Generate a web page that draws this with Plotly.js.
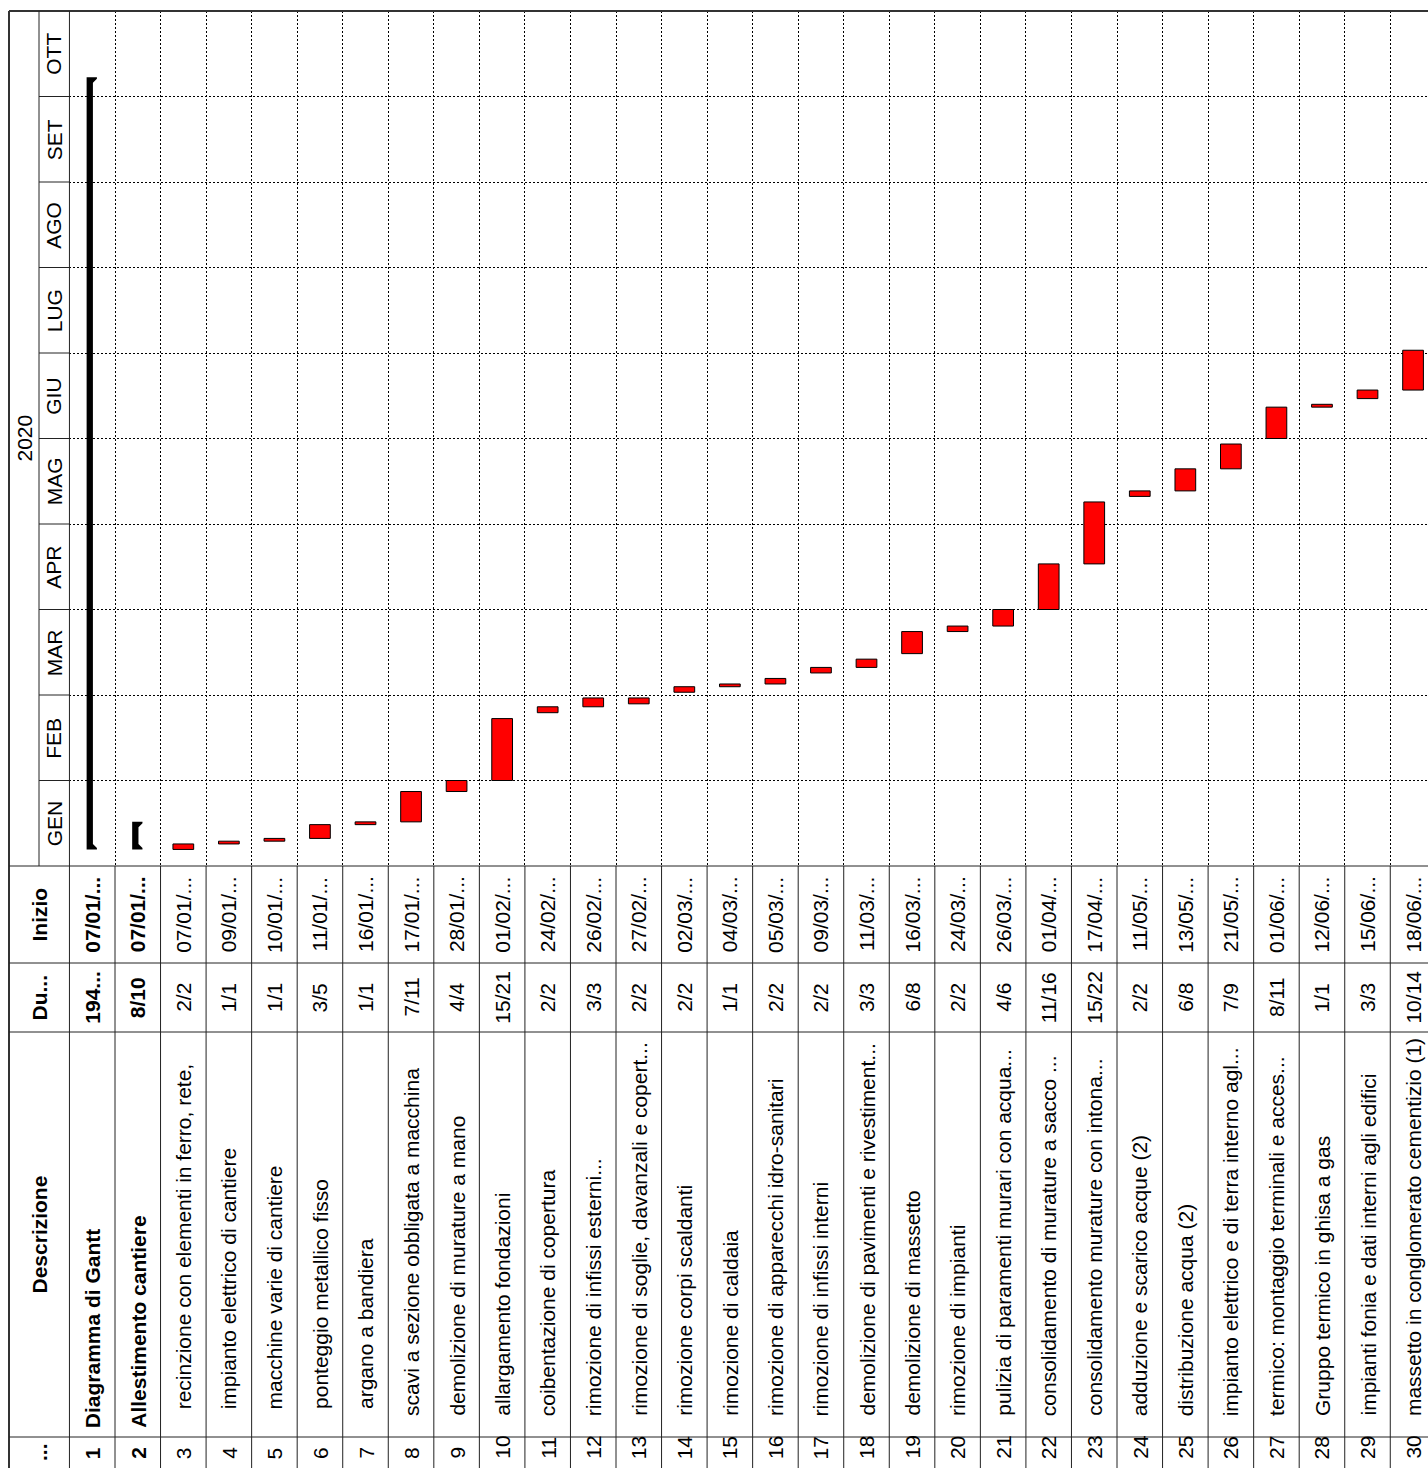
<!DOCTYPE html>
<html>
<head>
<meta charset="utf-8">
<script src="https://cdn.plot.ly/plotly-3.0.1.min.js"></script>
<style>
html,body{margin:0;padding:0;background:#fff;}
#chart{width:1428px;height:1468px;}
</style>
</head>
<body>
<div id="chart"></div>
<script>
// ---------------- DATA ----------------
const rowIds = [1,2,3,4,5,6,7,8,9,10,11,12,13,14,15,16,17,18,19,20,21,22,23,24,25,26,27,28,29,30];
const descriptions = [
  "Diagramma di Gantt",
  "Allestimento cantiere",
  "recinzione con elementi in ferro, rete,",
  "impianto elettrico di cantiere",
  "macchine varie di cantiere",
  "ponteggio metallico fisso",
  "argano a bandiera",
  "scavi a sezione obbligata a macchina",
  "demolizione di murature a mano",
  "allargamento fondazioni",
  "coibentazione di copertura",
  "rimozione di infissi esterni...",
  "rimozione di soglie, davanzali e copert...",
  "rimozione corpi scaldanti",
  "rimozione di caldaia",
  "rimozione di apparecchi idro-sanitari",
  "rimozione di infissi interni",
  "demolizione di pavimenti e rivestiment...",
  "demolizione di massetto",
  "rimozione di impianti",
  "pulizia di paramenti murari con acqua...",
  "consolidamento di murature a sacco ...",
  "consolidamento murature con intona...",
  "adduzione e scarico acque (2)",
  "distribuzione acqua (2)",
  "impianto elettrico e di terra interno agl...",
  "termico: montaggio terminali e acces...",
  "Gruppo termico in ghisa a gas",
  "impianti fonia e dati interni agli edifici",
  "massetto in conglomerato cementizio (1)"
];
const durationLabels = ["194...","8/10","2/2","1/1","1/1","3/5","1/1","7/11","4/4","15/21","2/2","3/3","2/2","2/2","1/1","2/2","2/2","3/3","6/8","2/2","4/6","11/16","15/22","2/2","6/8","7/9","8/11","1/1","3/3","10/14"];
const startLabels = ["07/01/...","07/01/...","07/01/...","09/01/...","10/01/...","11/01/...","16/01/...","17/01/...","28/01/...","01/02/...","24/02/...","26/02/...","27/02/...","02/03/...","04/03/...","05/03/...","09/03/...","11/03/...","16/03/...","24/03/...","26/03/...","01/04/...","17/04/...","11/05/...","13/05/...","21/05/...","01/06/...","12/06/...","15/06/...","18/06/..."];
const startDates = ["07/01/2020","07/01/2020","07/01/2020","09/01/2020","10/01/2020","11/01/2020","16/01/2020","17/01/2020","28/01/2020","01/02/2020","24/02/2020","26/02/2020","27/02/2020","02/03/2020","04/03/2020","05/03/2020","09/03/2020","11/03/2020","16/03/2020","24/03/2020","26/03/2020","01/04/2020","17/04/2020","11/05/2020","13/05/2020","21/05/2020","01/06/2020","12/06/2020","15/06/2020","18/06/2020"];
// calendar days (second duration figure); row 1
const calendarDays = [275,10,2,1,1,5,1,11,4,21,2,3,2,2,1,2,2,3,8,2,6,16,22,2,8,9,11,1,3,14];
const summaryRows = [1,2];
const indentGroup = [0,0,2,2,2,2,2,1,1,1,1,1,1,1,1,1,1,1,1,1,1,1,1,1,1,1,1,1,1,1];
const monthLabels = ["GEN","FEB","MAR","APR","MAG","GIU","LUG","AGO","SET","OTT"];
const yearLabel = "2020";
const headerNum = "...";
const headerDesc = "Descrizione";
const headerDur = "Du...";
const headerStart = "Inizio";

// ---------------- HELPERS ----------------
const W = 1428, H = 1468;
const px = v => v / W;
const py = v => 1 - v / H;
const ROW_PX = 45.546;      // pixel per row
const MONTH_PX = 85.5;      // pixel per month
const CHART_LEFT = 69.45, CHART_TOP = 11, CHART_BOTTOM = 866;

function parseDate(s){ const [d,m,y] = s.split('/').map(Number); return new Date(Date.UTC(y,m-1,d)); }
function daysIn(y,m){ return new Date(Date.UTC(y,m+1,0)).getUTCDate(); }
function toMonthUnits(dt){ return dt.getUTCMonth() + (dt.getUTCDate()-1)/daysIn(dt.getUTCFullYear(), dt.getUTCMonth()); }

const startMU = startDates.map(s => toMonthUnits(parseDate(s)));
const endMU = startDates.map((s,i) => toMonthUnits(new Date(parseDate(s).getTime() + calendarDays[i]*86400000)));

// ---------------- TRACES ----------------
const taskIdx = rowIds.map((r,i)=>i).filter(i => summaryRows.indexOf(rowIds[i]) < 0);
const traces = [];
traces.push({
  type:'bar',
  x: taskIdx.map(i => rowIds[i]),
  base: taskIdx.map(i => startMU[i]),
  y: taskIdx.map(i => endMU[i] - startMU[i]),
  width: 0.455,
  marker:{color:'#ff0000', line:{color:'#000000', width:1}},
  hoverinfo:'none',
  showlegend:false
});
summaryRows.forEach(r => {
  const i = rowIds.indexOf(r);
  const s = startMU[i], e = endMU[i];
  const xl = r - 5.6/ROW_PX, xb = r + 0.7/ROW_PX, xc = r + 4.7/ROW_PX;
  const d1 = 1.5/MONTH_PX, d2 = 5.5/MONTH_PX;
  traces.push({
    type:'scatter', mode:'lines', fill:'toself', fillcolor:'#000000',
    line:{width:0, color:'#000000'},
    x:[xl, xc, xc, xb, xb, xc, xc, xl, xl],
    y:[s, s, s+d1, s+d2, e-d2, e-d1, e, e, s],
    hoverinfo:'none', showlegend:false
  });
});

// ---------------- ANNOTATIONS ----------------
const FONT = 'Liberation Sans, Arial, sans-serif';
const ann = [];
function A(o){ ann.push(Object.assign({showarrow:false, textangle:-90, font:{family:FONT, size:21, color:'#000'}}, o)); }
const bold = t => '<b>' + t + '</b>';
const descStartPx = [1430, 1418, 1411];

rowIds.forEach((r,i) => {
  const isB = summaryRows.indexOf(r) >= 0;
  A({x:r, xref:'x', y:py(1461), yref:'paper', xanchor:'center', yanchor:'bottom', text: isB ? bold(String(r)) : String(r)});
  A({x:r, xref:'x', y:py(descStartPx[indentGroup[i]]), yref:'paper', xanchor:'center', yanchor:'bottom', text: isB ? bold(descriptions[i]) : descriptions[i]});
  A({x:r, xref:'x', y:py(997.5), yref:'paper', xanchor:'center', yanchor:'middle', text: isB ? bold(durationLabels[i]) : durationLabels[i]});
  A({x:r, xref:'x', y:py(914.5), yref:'paper', xanchor:'center', yanchor:'middle', text: isB ? bold(startLabels[i]) : startLabels[i]});
});
A({x:px(39), xref:'paper', y:py(1452), yref:'paper', xanchor:'center', yanchor:'middle', text:bold(headerNum)});
A({x:px(39), xref:'paper', y:py(1234.5), yref:'paper', xanchor:'center', yanchor:'middle', text:bold(headerDesc)});
A({x:px(39), xref:'paper', y:py(997.5), yref:'paper', xanchor:'center', yanchor:'middle', text:bold(headerDur)});
A({x:px(39), xref:'paper', y:py(914.5), yref:'paper', xanchor:'center', yanchor:'middle', text:bold(headerStart)});
monthLabels.forEach((m,k) => {
  A({x:px(54), xref:'paper', y:k+0.5, yref:'y', xanchor:'center', yanchor:'middle', text:m});
});
A({x:px(24), xref:'paper', y:monthLabels.length/2, yref:'y', xanchor:'center', yanchor:'middle', text:yearLabel});

// ---------------- SHAPES (table frame) ----------------
const shapes = [];
const LC = '#222222';
function L(o){ shapes.push(Object.assign({type:'line', layer:'above', line:{color:LC, width:1}}, o)); }
L({xref:'paper', yref:'paper', x0:px(9), x1:px(9), y0:py(11), y1:py(1468), line:{color:'#333', width:2}});
L({xref:'paper', yref:'paper', x0:px(9), x1:1, y0:py(11), y1:py(11), line:{color:'#333', width:2}});
L({xref:'paper', yref:'paper', x0:px(39), x1:px(39), y0:py(11), y1:py(CHART_BOTTOM)});
L({xref:'paper', yref:'paper', x0:px(CHART_LEFT), x1:px(CHART_LEFT), y0:py(11), y1:py(1468)});
for(let k=1;k<monthLabels.length;k++){
  L({xref:'paper', yref:'y', x0:px(39), x1:px(CHART_LEFT), y0:k, y1:k});
}
[CHART_BOTTOM, 963, 1032, 1437].forEach(v => L({xref:'paper', yref:'paper', x0:px(9), x1:1, y0:py(v), y1:py(v)}));
for(let k=1;k<=rowIds.length;k++){
  L({xref:'x', yref:'paper', x0:k+0.5, x1:k+0.5, y0:py(CHART_BOTTOM), y1:0});
}

// ---------------- LAYOUT ----------------
const xTicks = []; for(let k=1;k<rowIds.length;k++) xTicks.push(k+0.5);
const yTicks = []; for(let k=1;k<monthLabels.length;k++) yTicks.push(k);
const layout = {
  width:W, height:H,
  margin:{l:0,r:0,t:0,b:0},
  paper_bgcolor:'#ffffff', plot_bgcolor:'rgba(0,0,0,0)',
  showlegend:false,
  xaxis:{
    domain:[px(CHART_LEFT), 1],
    range:[0.5, 0.5 + (W - CHART_LEFT)/ROW_PX],
    tickvals:xTicks, showticklabels:false, ticks:'',
    showgrid:true, gridcolor:'#000', gridwidth:1, griddash:'2px,2px',
    zeroline:false, showline:false, fixedrange:true
  },
  yaxis:{
    domain:[py(CHART_BOTTOM), py(CHART_TOP)],
    range:[0, monthLabels.length],
    tickvals:yTicks, showticklabels:false, ticks:'',
    showgrid:true, gridcolor:'#000', gridwidth:1, griddash:'2px,2px',
    zeroline:false, showline:false, fixedrange:true
  },
  annotations:ann,
  shapes:shapes
};
Plotly.newPlot('chart', traces, layout, {displayModeBar:false, staticPlot:true});
</script>
</body>
</html>
